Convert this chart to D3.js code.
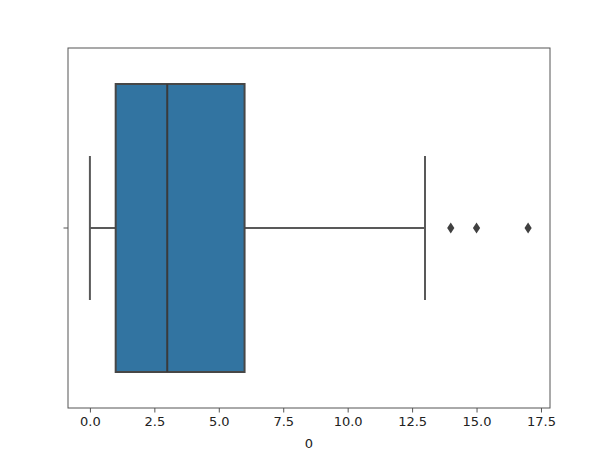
<!DOCTYPE html>
<html><head><meta charset="utf-8">
<script src="https://cdn.jsdelivr.net/npm/d3@7"></script>
<style>body{margin:0;background:#fff}svg{display:block}text{font-family:"DejaVu Sans",sans-serif}</style>
</head><body>
<svg id="c" width="604" height="460"></svg>
<script>
const categories = ["0"];
const q1Values = [1];
const medianValues = [3];
const q3Values = [6];
const whiskerLow = [0];
const whiskerHigh = [13];
const outliers = [14, 15, 17];
const xTicks = [0, 2.5, 5, 7.5, 10, 12.5, 15, 17.5];
const xLabel = "0";

const svg = d3.select("#c");
const L = 68, R = 550, T = 48, B = 408;
const x = d3.scaleLinear().domain([-0.85, 17.85]).range([L, R]);
const y = d3.scaleBand().domain(categories).range([T, B]).padding(0);
const bw = y.bandwidth() * 0.8;
const lineCol = "#595959";
const fill = "#3274a1";

categories.forEach((c, i) => {
  const cy = y(c) + y.bandwidth() / 2;
  const g = svg.append("g");
  g.append("line").attr("x1", x(whiskerLow[i])).attr("x2", x(q1Values[i])).attr("y1", cy).attr("y2", cy)
    .attr("stroke", lineCol).attr("stroke-width", 2);
  g.append("line").attr("x1", x(q3Values[i])).attr("x2", x(whiskerHigh[i])).attr("y1", cy).attr("y2", cy)
    .attr("stroke", lineCol).attr("stroke-width", 2);
  [whiskerLow[i], whiskerHigh[i]].forEach(v => {
    g.append("line").attr("x1", x(v)).attr("x2", x(v)).attr("y1", cy - bw / 4).attr("y2", cy + bw / 4)
      .attr("stroke", lineCol).attr("stroke-width", 2);
  });
  g.append("rect").attr("x", x(q1Values[i])).attr("y", cy - bw / 2)
    .attr("width", x(q3Values[i]) - x(q1Values[i])).attr("height", bw)
    .attr("fill", fill).attr("stroke", "#474747").attr("stroke-width", 2);
  g.append("line").attr("x1", x(medianValues[i])).attr("x2", x(medianValues[i]))
    .attr("y1", cy - bw / 2).attr("y2", cy + bw / 2).attr("stroke", "#3a3a3a").attr("stroke-width", 2);
  g.selectAll("path.o").data(outliers).enter().append("path")
    .attr("d", d => `M${x(d)},${cy - 5.5}L${x(d) + 3.6},${cy}L${x(d)},${cy + 5.5}L${x(d) - 3.6},${cy}Z`)
    .attr("fill", "#404040");
});

svg.append("rect").attr("x", L).attr("y", T).attr("width", R - L).attr("height", B - T)
  .attr("fill", "none").attr("stroke", "#555").attr("stroke-width", 1);

const xa = svg.append("g").attr("transform", `translate(0,${B})`)
  .call(d3.axisBottom(x).tickValues(xTicks).tickFormat(d3.format(".1f")).tickSize(4.5).tickPadding(4.5));
xa.select(".domain").remove();
xa.selectAll("line").attr("stroke", "#555");
xa.selectAll("text").attr("font-size", 13).attr("fill", "#222").attr("font-family", "DejaVu Sans");

const ya = svg.append("g").attr("transform", `translate(${L},0)`)
  .call(d3.axisLeft(y).tickSize(4.5).tickFormat(""));
ya.select(".domain").remove();
ya.selectAll("line").attr("stroke", "#555");

svg.append("text").attr("x", (L + R) / 2).attr("y", 448).attr("text-anchor", "middle")
  .attr("font-size", 13).attr("fill", "#222").text(xLabel);
</script>
</body></html>
